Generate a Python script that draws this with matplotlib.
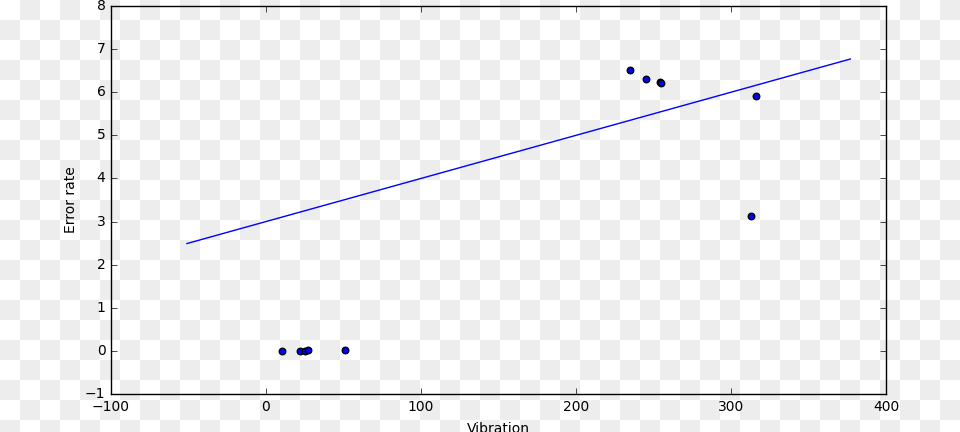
import numpy as np
import matplotlib
matplotlib.use("Agg")
import matplotlib.pyplot as plt

plt.style.use("classic")

# scatter observations
vibration = [10, 22, 25, 27, 51, 235, 245, 254, 255, 313, 316]
error_rate = [0.0, 0.0, 0.0, 0.01, 0.03, 6.51, 6.3, 6.24, 6.21, 3.12, 5.91]

# fitted line end points
fit_x = [-51, 377]
fit_y = [2.49, 6.77]

fig = plt.figure(figsize=(9.6, 4.32), dpi=100)
fig.patch.set_alpha(0)

# transparency checkerboard behind the whole picture
h, w = 432, 960
yy, xx = np.mgrid[0:h, 0:w]
checker = ((xx // 20 + yy // 20) % 2).astype(float)
bg = np.where(checker[..., None] > 0, 0.933, 1.0) * np.ones((h, w, 3))
fig.figimage(bg, xo=0, yo=0, origin="upper", zorder=-10)

ax = fig.add_axes([111 / 960, 38 / 432, 775 / 960, 388 / 432])
ax.set_facecolor("none")

ax.scatter(vibration, error_rate, s=22, c="b", edgecolors="k", linewidths=1, zorder=3)
ax.plot(fit_x, fit_y, color="b", lw=1)

ax.set_xlim(-100, 400)
ax.set_ylim(-1, 8)
ax.set_xticks(np.arange(-100, 401, 100))
ax.set_yticks(np.arange(-1, 9, 1))
ax.set_xlabel("Vibration", fontsize=10, labelpad=6)
ax.set_ylabel("Error rate", fontsize=10)
ax.tick_params(labelsize=10)

fig.savefig("out.png", dpi=100)
